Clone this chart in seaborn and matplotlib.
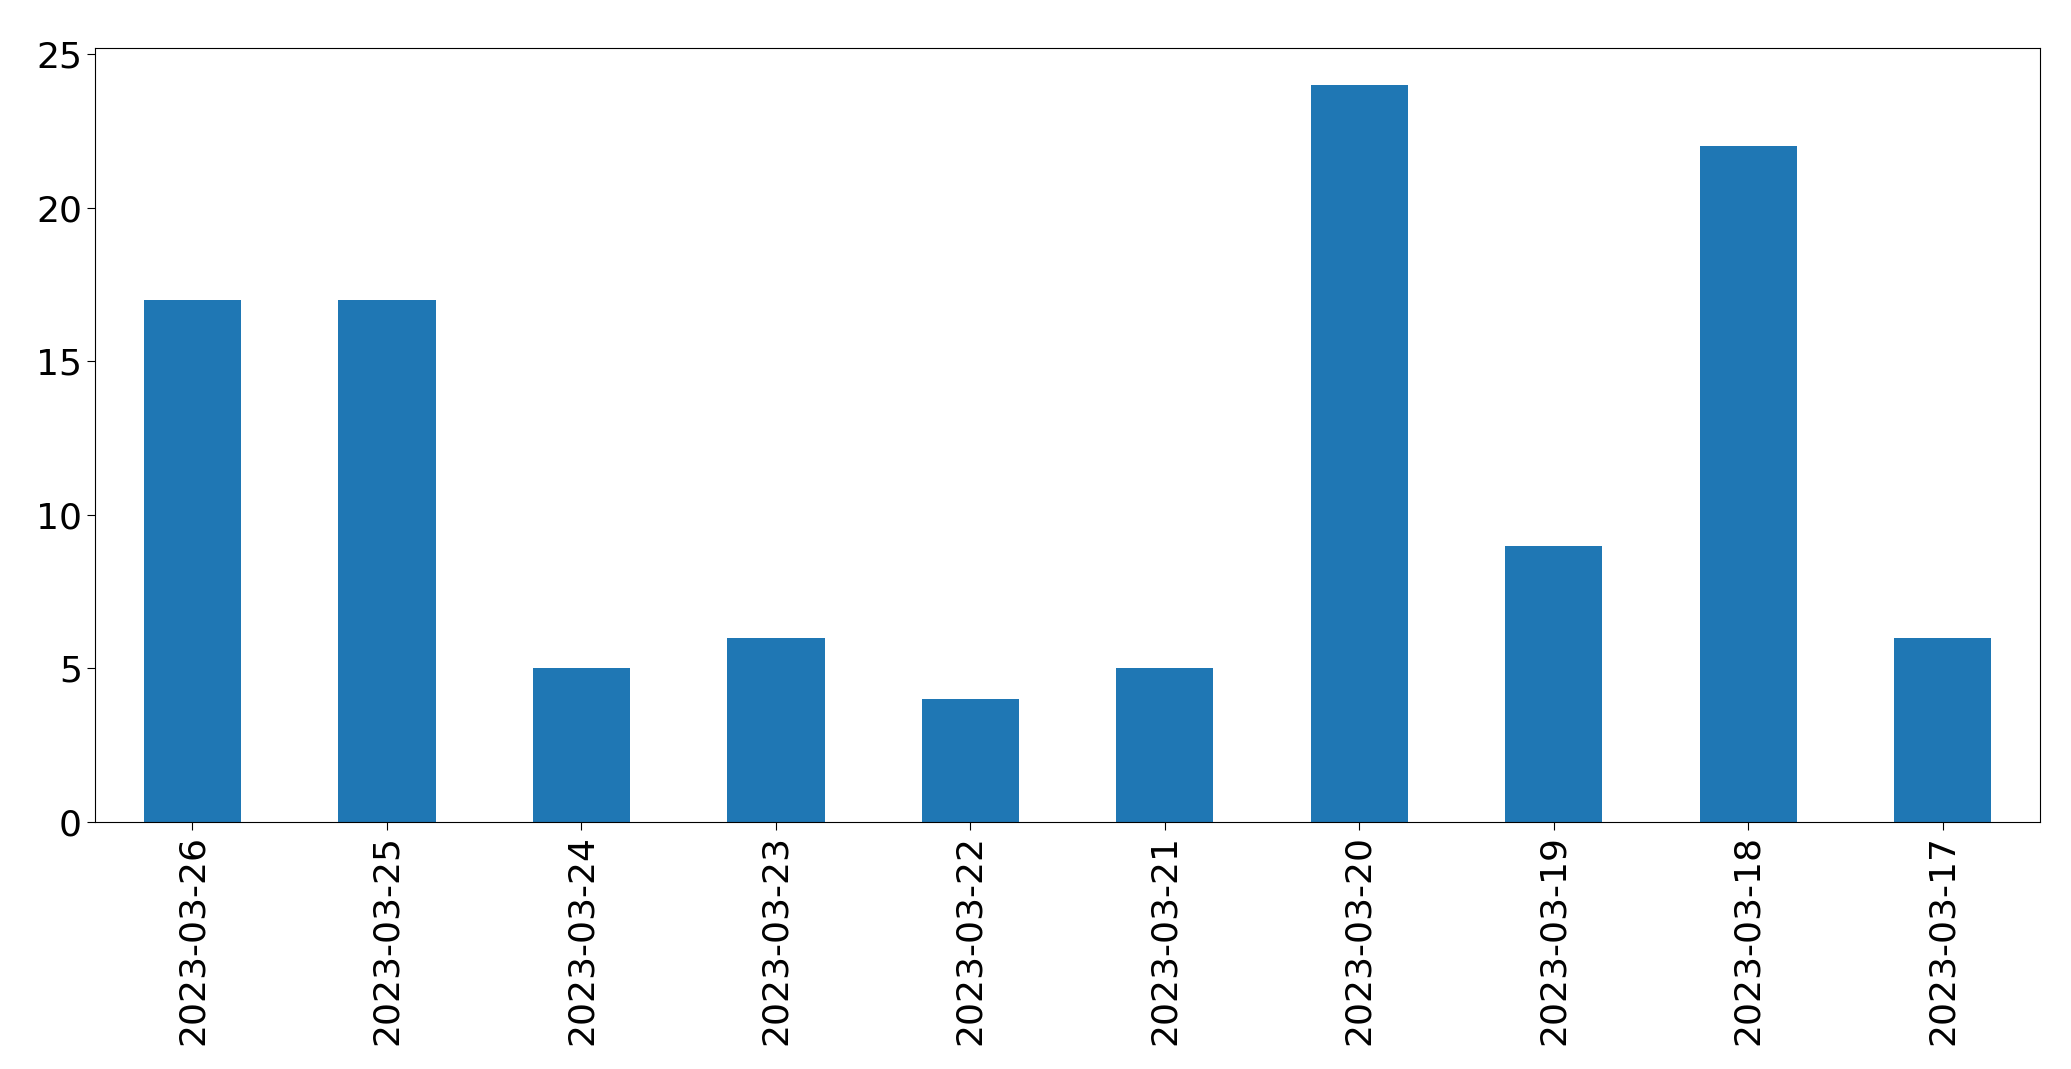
import matplotlib
matplotlib.use("Agg")
import matplotlib.pyplot as plt
import seaborn as sns
import pandas as pd

dates = ["2023-03-26","2023-03-25","2023-03-24","2023-03-23","2023-03-22",
         "2023-03-21","2023-03-20","2023-03-19","2023-03-18","2023-03-17"]
counts = [17, 17, 5, 6, 4, 5, 24, 9, 22, 6]

df = pd.DataFrame({"date": dates, "count": counts})
fig = plt.figure(figsize=(20.71, 10.69), dpi=100)
ax = fig.add_axes([0.046, 0.231, 0.939, 0.724])
sns.barplot(data=df, x="date", y="count", color="#1f77b4", saturation=1, width=0.5, ax=ax)
ax.set_xlim(-0.5, len(dates) - 0.5)
ax.set_ylim(0, 25.2)
ax.set_yticks([0, 5, 10, 15, 20, 25])
ax.set_xlabel("")
ax.set_ylabel("")
ax.tick_params(axis="both", labelsize=26, length=6)
plt.setp(ax.get_xticklabels(), rotation=90)
fig.savefig("out.png", dpi=100)
